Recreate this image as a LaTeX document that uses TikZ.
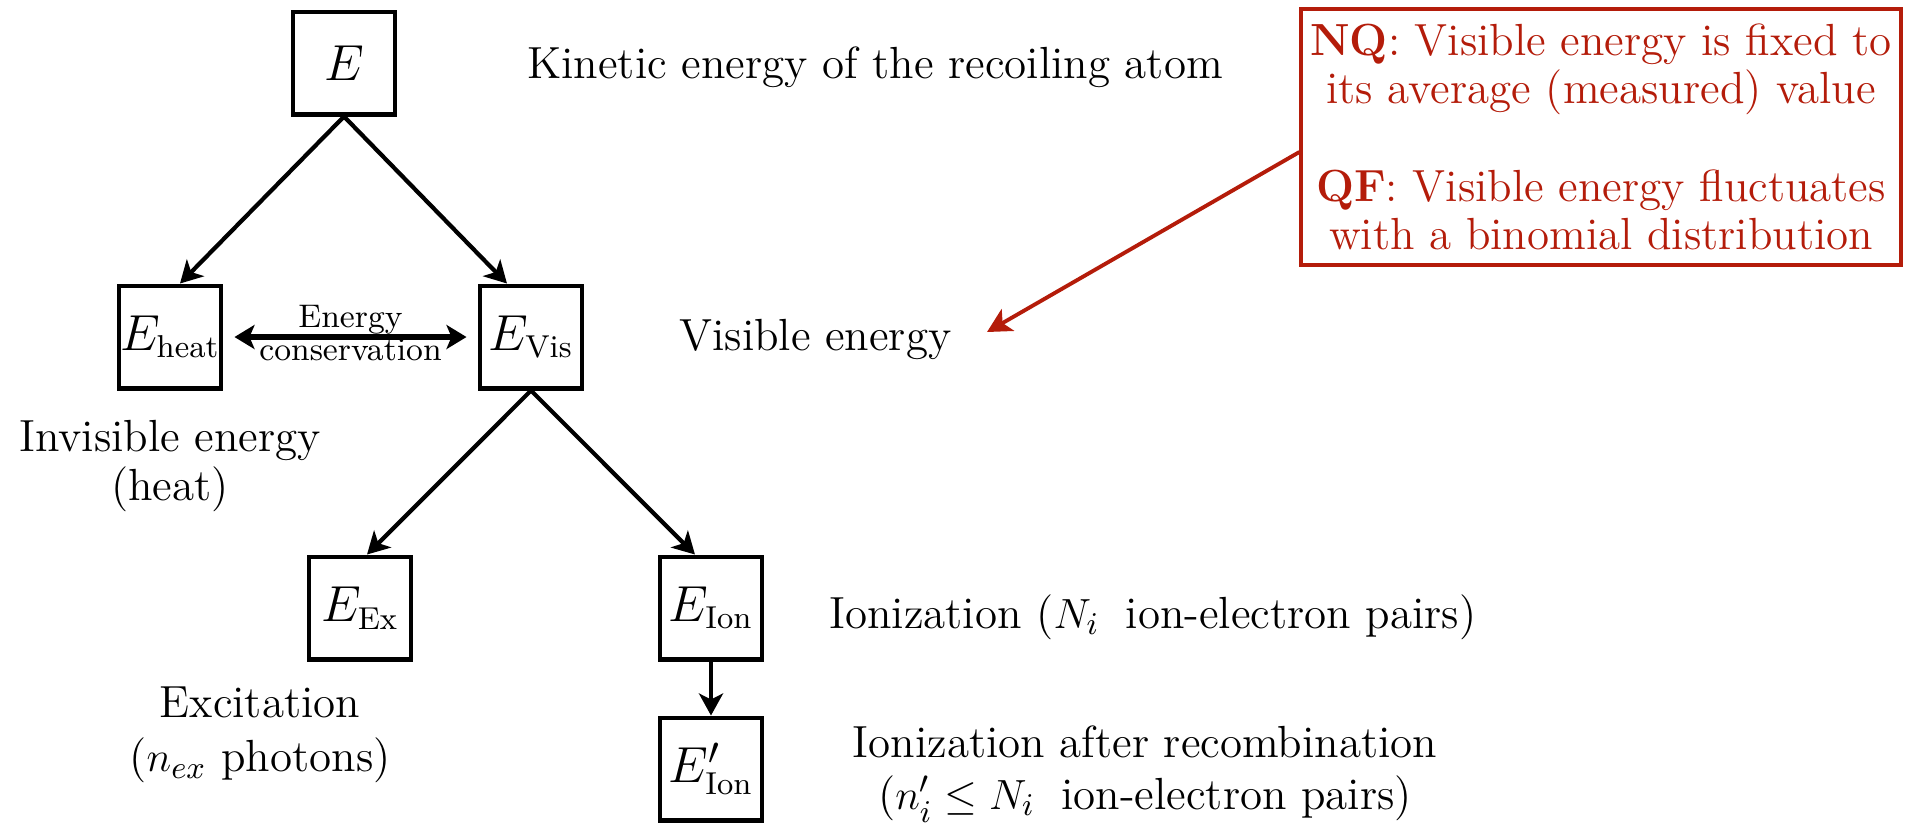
\documentclass[tikz,border=0pt]{standalone}
\usepackage{amsmath,amssymb}
\usepackage{tikz}
\usetikzlibrary{arrows.meta}

\definecolor{nqred}{RGB}{180,28,10}
\newcommand{\lblfont}{\fontsize{12.8}{13.8}\selectfont}
\newcommand{\boxfont}{\fontsize{15}{17}\selectfont}
\newcommand{\tinylbl}{\fontsize{9.3}{9.2}\selectfont}
\newcommand{\esub}[1]{\mbox{\fontsize{9}{9}\selectfont #1}}

\tikzset{
	ebox/.style={draw, line width=1.4pt, minimum size=1.02cm, inner sep=0pt, font=\boxfont},
	conn/.style={line width=1.2pt, -{Stealth[length=2.2mm, width=2.4mm, inset=0.6mm]}},
	dbl/.style={line width=1.8pt, {Stealth[length=2mm, width=2.4mm, inset=0.5mm]}-{Stealth[length=2mm, width=2.4mm, inset=0.5mm]}, shorten <=1.1mm, shorten >=1.1mm},
	redconn/.style={draw=nqred, line width=1.1pt, -{Stealth[length=2.4mm, width=2.5mm, inset=0.6mm]}}
}

\begin{document}
\begin{tikzpicture}[x=0.01cm, y=-0.01cm, every node/.style={font=\lblfont}]
	\useasboundingbox (0,0) rectangle (1905,823);
	\node[ebox] (E) at (344,63) {$E$};
	\node[ebox] (Eheat) at (170,337) {$E_{\esub{heat}}$};
	\node[ebox] (Evis) at (531,337) {$E_{\esub{Vis}}$};
	\node[ebox] (Eex) at (360,608) {$E_{\esub{Ex}}$};
	\node[ebox] (Eion) at (711,608) {$E_{\esub{Ion}}$};
	\node[ebox] (Eionp) at (711,769) {$E'_{\esub{Ion}}$};

	\draw[conn] (E.south) -- ([xshift=1mm]Eheat.north);
	\draw[conn] (E.south) -- ([xshift=-2.4mm]Evis.north);
	\draw[conn] (Evis.south) -- ([xshift=0.7mm]Eex.north);
	\draw[conn] (Evis.south) -- ([xshift=-1.6mm]Eion.north);
	\draw[conn] (Eion) -- (Eionp);
	\draw[dbl] (Eheat) -- (Evis) node[midway, yshift=0.4mm, font=\tinylbl, align=center] (cons) {Energy\\conservation};

	\node[anchor=base west] (kin) at (515,78) {Kinetic energy of the recoiling atom};
	\node[anchor=base west] (vis) at (667,350) {Visible energy};
	\node[align=center] (invis) at (170,466) {Invisible energy\\(heat)};
	\node[align=center] (exc) at (260,735) {Excitation\\[0.6mm]($n_{ex}$ photons)};
	\node[anchor=base west] (ion) at (817,628) {Ionization ($N_i\;$ ion-electron pairs)};
	\node[align=center, inner sep=0pt] (ionrec) at (1145,774) {Ionization after recombination\\[0.3mm]($n'_i\leq N_i\;$ ion-electron pairs)};

	\node[draw=nqred, line width=1.1pt, text=nqred, minimum width=5.99cm, minimum height=2.56cm, inner sep=0pt, align=center] (notes) at (1601,137) {\textbf{NQ}: Visible energy is fixed to\\its average (measured) value\\[4.9mm]\textbf{QF}: Visible energy fluctuates\\with a binomial distribution};
	\coordinate (vispt) at (987,332);
	\draw[redconn] ([yshift=-1.5mm]notes.west) -- (vispt);
\end{tikzpicture}
\end{document}
